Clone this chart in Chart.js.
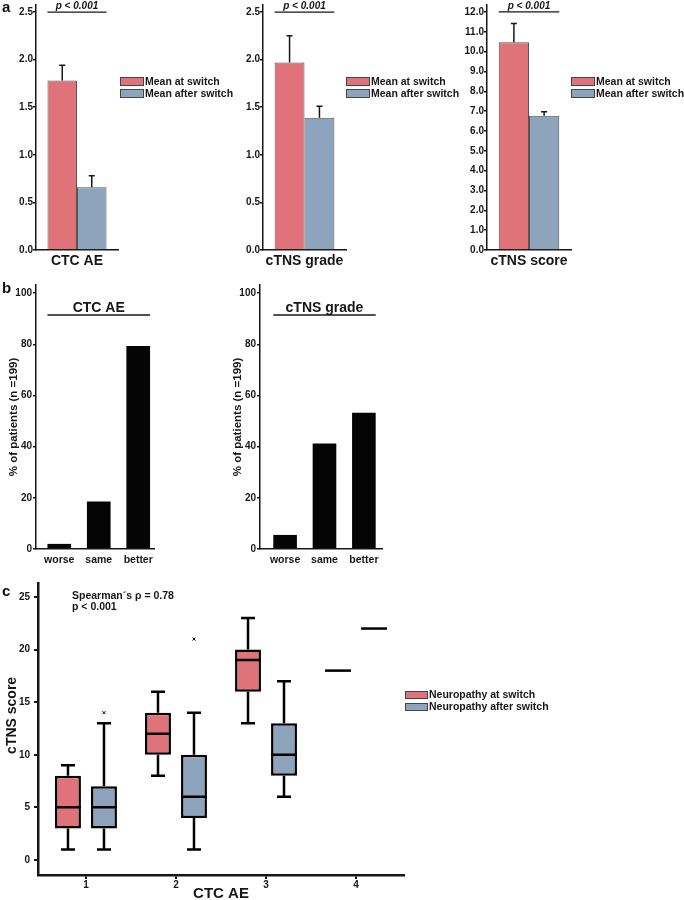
<!DOCTYPE html>
<html>
<head>
<meta charset="utf-8">
<title>Neuropathy at and after switch</title>
<script src="https://cdn.jsdelivr.net/npm/chart.js@4.4.0/dist/chart.umd.min.js"></script>
<style>
  body { margin: 0; background: #fff; overflow: hidden; }
  #page { position: relative; width: 684px; height: 900px; font-family: 'Liberation Sans', Arial, sans-serif; }
  #page canvas { position: absolute; }
  .tag { position: absolute; font-weight: bold; font-size: 15px; line-height: 15px; color: #111; }
</style>
</head>
<body>
<div id="page">
  <canvas id="a1" width="240" height="280" style="left:0;top:0"></canvas>
  <canvas id="a2" width="230" height="280" style="left:230px;top:0"></canvas>
  <canvas id="a3" width="230" height="280" style="left:454px;top:0"></canvas>
  <canvas id="b1" width="230" height="300" style="left:0;top:280px"></canvas>
  <canvas id="b2" width="230" height="300" style="left:224px;top:280px"></canvas>
  <canvas id="c" width="684" height="320" style="left:0;top:580px"></canvas>
  <div class="tag" style="left:2px;top:-1px">a</div>
  <div class="tag" style="left:2px;top:280px">b</div>
  <div class="tag" style="left:2px;top:583px">c</div>
</div>

<script>
// ---- data ----
const meanLabels = ['Mean at switch', 'Mean after switch'];
const ctcMean = [1.78, 0.66];
const ctcErr = [1.94, 0.78];
const gradeMean = [1.97, 1.39];
const gradeErr = [2.25, 1.51];
const scoreMean = [10.47, 6.77];
const scoreErr = [11.42, 6.97];

const changeCats = ['worse', 'same', 'better'];
const ctcChange = [2.0, 18.6, 79.4];
const gradeChange = [5.5, 41.2, 53.3];

const boxLabels = ['Neuropathy at switch', 'Neuropathy after switch'];
const ctcGrades = [1, 2, 3, 4];
const atMin = [1, 8, 13, 18];
const atQ1 = [3, 10, 16, 18];
const atMed = [5, 12, 19, 18];
const atQ3 = [8, 14, 20, 18];
const atMax = [9, 16, 23, 18];
const atOut = [[], [], [], []];
const afterMin = [1, 1, 6, 22];
const afterQ1 = [3, 4, 8, 22];
const afterMed = [5, 6, 10, 22];
const afterQ3 = [7, 10, 13, 22];
const afterMax = [13, 14, 17, 22];
const afterOut = [[14], [21], [], []];

// ---- styles ----
const FONT = "'Liberation Sans', Arial, sans-serif";
const RED = '#E0727A';
const BLUE = '#8DA4BC';
const INK = '#161616';

Chart.defaults.font.family = FONT;
Chart.defaults.font.weight = 'bold';
Chart.defaults.color = INK;

// upper error bars on the mean charts
const errorBars = {
  id: 'errorBars',
  afterDatasetsDraw(chart) {
    const { ctx, scales: { y } } = chart;
    chart.data.datasets.forEach((ds, i) => {
      if (!ds.errTop) return;
      chart.getDatasetMeta(i).data.forEach((bar, j) => {
        const top = y.getPixelForValue(ds.errTop[j]);
        ctx.save();
        ctx.strokeStyle = INK;
        ctx.lineWidth = 1.5;
        ctx.beginPath();
        ctx.moveTo(bar.x, bar.y);
        ctx.lineTo(bar.x, top);
        ctx.moveTo(bar.x - 3, top);
        ctx.lineTo(bar.x + 3, top);
        ctx.stroke();
        ctx.restore();
      });
    });
  }
};

// p-value bracket above the bars
const sigLine = {
  id: 'sigLine',
  afterDatasetsDraw(chart, args, opts) {
    if (!opts.text) return;
    const { ctx } = chart;
    const n = chart.data.datasets.length;
    const first = chart.getDatasetMeta(0).data[0];
    const last = chart.getDatasetMeta(n - 1).data[0];
    const x0 = first.x - first.width / 2, x1 = last.x + last.width / 2;
    const yy = chart.scales.y.getPixelForValue(opts.value);
    ctx.save();
    ctx.strokeStyle = INK;
    ctx.lineWidth = 1.3;
    ctx.beginPath();
    ctx.moveTo(x0, yy);
    ctx.lineTo(x1, yy);
    ctx.stroke();
    ctx.fillStyle = INK;
    ctx.font = 'italic bold 10px ' + FONT;
    ctx.textAlign = 'center';
    ctx.textBaseline = 'middle';
    ctx.fillText(opts.text, (x0 + x1) / 2, yy - 6);
    ctx.restore();
  }
};

// legend boxes beside the plot area
const sideLegend = {
  id: 'sideLegend',
  afterDraw(chart, args, opts) {
    const { ctx, chartArea } = chart;
    const x = chartArea.right + opts.dx;
    chart.data.datasets.forEach((ds, i) => {
      const y = opts.top + i * opts.step;
      ctx.save();
      ctx.fillStyle = ds.backgroundColor;
      ctx.fillRect(x, y, opts.boxW, opts.boxH);
      ctx.strokeStyle = '#444';
      ctx.lineWidth = 1;
      ctx.strokeRect(x + 0.5, y + 0.5, opts.boxW - 1, opts.boxH - 1);
      ctx.fillStyle = INK;
      ctx.font = 'bold 10.5px ' + FONT;
      ctx.textBaseline = 'middle';
      ctx.fillText(ds.label, x + opts.boxW + 1, y + opts.boxH / 2 + 0.5);
      ctx.restore();
    });
  }
};

// underlined heading inside the percentage charts
const panelHeader = {
  id: 'panelHeader',
  afterDraw(chart, args, opts) {
    if (!opts.text) return;
    const { ctx, chartArea } = chart;
    const bars = chart.getDatasetMeta(0).data;
    const x0 = bars[0].x - bars[0].width / 2;
    const x1 = bars[bars.length - 1].x + bars[bars.length - 1].width / 2;
    const yy = chartArea.top + opts.offset;
    ctx.save();
    ctx.strokeStyle = INK;
    ctx.lineWidth = 1.5;
    ctx.beginPath();
    ctx.moveTo(x0, yy);
    ctx.lineTo(x1, yy);
    ctx.stroke();
    ctx.fillStyle = INK;
    ctx.font = 'bold 14px ' + FONT;
    ctx.textAlign = 'center';
    ctx.textBaseline = 'middle';
    ctx.fillText(opts.text, (x0 + x1) / 2, yy - 7);
    ctx.restore();
  }
};

// whiskers, medians and outliers for the box plot
const boxWhiskers = {
  id: 'boxWhiskers',
  afterDatasetsDraw(chart) {
    const { ctx, scales: { y } } = chart;
    const p = v => y.getPixelForValue(v);
    chart.data.datasets.forEach((ds, i) => {
      const s = ds.stats;
      if (!s) return;
      chart.getDatasetMeta(i).data.forEach((box, j) => {
        const cx = box.x, half = box.width / 2, cap = box.width * 0.27;
        ctx.save();
        ctx.strokeStyle = '#000';
        ctx.lineWidth = 2.5;
        ctx.beginPath();
        if (s.max[j] > s.q3[j]) {
          ctx.moveTo(cx, p(s.q3[j]));
          ctx.lineTo(cx, p(s.max[j]));
          ctx.moveTo(cx - cap, p(s.max[j]));
          ctx.lineTo(cx + cap, p(s.max[j]));
        }
        if (s.min[j] < s.q1[j]) {
          ctx.moveTo(cx, p(s.q1[j]));
          ctx.lineTo(cx, p(s.min[j]));
          ctx.moveTo(cx - cap, p(s.min[j]));
          ctx.lineTo(cx + cap, p(s.min[j]));
        }
        ctx.moveTo(cx - half, p(s.med[j]));
        ctx.lineTo(cx + half, p(s.med[j]));
        ctx.stroke();
        ctx.lineWidth = 1;
        ctx.beginPath();
        s.out[j].forEach(v => {
          const oy = p(v);
          ctx.moveTo(cx - 1.5, oy - 1.5); ctx.lineTo(cx + 1.5, oy + 1.5);
          ctx.moveTo(cx + 1.5, oy - 1.5); ctx.lineTo(cx - 1.5, oy + 1.5);
        });
        ctx.stroke();
        ctx.restore();
      });
    });
  }
};

// text note in the plot corner
const cornerNote = {
  id: 'cornerNote',
  afterDraw(chart, args, opts) {
    if (!opts.lines) return;
    const { ctx, chartArea } = chart;
    ctx.save();
    ctx.fillStyle = INK;
    ctx.font = 'bold 10.5px ' + FONT;
    ctx.textBaseline = 'middle';
    opts.lines.forEach((t, i) => {
      ctx.fillText(t, chartArea.left + opts.dx, chartArea.top + opts.dy + i * 11.5);
    });
    ctx.restore();
  }
};

function yFit(w) {
  return s => { s.width = w; s.paddingTop = 0; s.paddingBottom = 0; };
}
function xFit(h) {
  return s => { s.height = h; s.paddingLeft = 0; s.paddingRight = 0; };
}

// ---- panel a: means with error bars ----
function meanChart(id, label, means, errs, yMax, step, yW, padRight, legendDx) {
  return new Chart(document.getElementById(id), {
    type: 'bar',
    data: {
      labels: [label],
      datasets: [
        { label: meanLabels[0], data: [means[0]], errTop: [errs[0]],
          backgroundColor: RED, borderColor: '#555', borderWidth: 1 },
        { label: meanLabels[1], data: [means[1]], errTop: [errs[1]],
          backgroundColor: BLUE, borderColor: '#555', borderWidth: 1 }
      ]
    },
    options: {
      responsive: false,
      animation: false,
      layout: { padding: { left: 0, right: padRight, top: 5, bottom: 0 } },
      datasets: { bar: { categoryPercentage: 0.72, barPercentage: 1 } },
      scales: {
        x: {
          afterFit: xFit(30),
          grid: { display: true, drawOnChartArea: false, drawTicks: false },
          border: { color: INK, width: 1.5 },
          ticks: { font: { size: 14, weight: 'bold' }, padding: 3, color: INK }
        },
        y: {
          min: 0,
          max: yMax,
          afterFit: yFit(yW),
          grid: { drawOnChartArea: false, tickLength: 3, color: INK, lineWidth: 1.5 },
          border: { color: INK, width: 1.5 },
          ticks: {
            stepSize: step, includeBounds: false, padding: 0, color: INK,
            font: { size: 10, weight: 'bold' },
            callback: v => v.toFixed(1)
          }
        }
      },
      plugins: {
        legend: { display: false },
        tooltip: { enabled: false },
        sigLine: { text: 'p < 0.001', value: step === 0.5 ? 2.5 : 12 },
        sideLegend: { dx: legendDx, top: 77, step: 12, boxW: 24, boxH: 9 }
      }
    },
    plugins: [errorBars, sigLine, sideLegend]
  });
}

meanChart('a1', 'CTC AE', ctcMean, ctcErr, 2.574, 0.5, 36, 122, 2);
meanChart('a2', 'cTNS grade', gradeMean, gradeErr, 2.574, 0.5, 33, 114, 0);
meanChart('a3', 'cTNS score', scoreMean, scoreErr, 12.35, 1, 33, 113, 0);

// ---- panel b: share of patients by change ----
function changeChart(id, title, values, xMin, xMax, padRight) {
  return new Chart(document.getElementById(id), {
    type: 'bar',
    data: {
      datasets: [{
        label: title,
        data: values.map((v, i) => ({ x: i + 1, y: v })),
        backgroundColor: '#050505',
        borderWidth: 0,
        categoryPercentage: 1,
        barPercentage: 0.6
      }]
    },
    options: {
      responsive: false,
      animation: false,
      layout: { padding: { left: 0, right: padRight, top: 5, bottom: 0 } },
      scales: {
        x: {
          type: 'linear',
          min: xMin,
          max: xMax,
          offset: false,
          afterFit: xFit(31),
          grid: { drawOnChartArea: false, drawTicks: false, offset: false },
          border: { color: INK, width: 1.5 },
          ticks: {
            stepSize: 1, includeBounds: false, padding: 5, color: INK,
            font: { size: 10.5, weight: 'bold' },
            callback: v => changeCats[v - 1] || ''
          }
        },
        y: {
          min: 0,
          max: 103.2,
          afterFit: yFit(36),
          grid: { drawOnChartArea: false, tickLength: 3, color: INK, lineWidth: 1.5 },
          border: { color: INK, width: 1.5 },
          ticks: { stepSize: 20, includeBounds: false, padding: 1, color: INK, font: { size: 10, weight: 'bold' } },
          title: {
            display: true, text: '% of patients (n =199)', color: INK,
            font: { size: 11.5, weight: 'bold' }, padding: { top: 7, bottom: 0 }
          }
        }
      },
      plugins: {
        legend: { display: false },
        tooltip: { enabled: false },
        panelHeader: { text: title, offset: 30 }
      }
    },
    plugins: [panelHeader]
  });
}

changeChart('b1', 'CTC AE', ctcChange, 0.41, 3.40, 76);
changeChart('b2', 'cTNS grade', gradeChange, 0.363, 3.46, 72);

// ---- panel c: cTNS score by CTC AE grade ----
new Chart(document.getElementById('c'), {
  type: 'bar',
  data: {
    datasets: [
      {
        label: boxLabels[0],
        data: ctcGrades.map((g, i) => ({ x: g, y: [atQ1[i], atQ3[i]] })),
        stats: { min: atMin, q1: atQ1, med: atMed, q3: atQ3, max: atMax, out: atOut },
        backgroundColor: RED, borderColor: '#000', borderWidth: 2.5, borderSkipped: false
      },
      {
        label: boxLabels[1],
        data: ctcGrades.map((g, i) => ({ x: g, y: [afterQ1[i], afterQ3[i]] })),
        stats: { min: afterMin, q1: afterQ1, med: afterMed, q3: afterQ3, max: afterMax, out: afterOut },
        backgroundColor: BLUE, borderColor: '#000', borderWidth: 2.5, borderSkipped: false
      }
    ]
  },
  options: {
    responsive: false,
    animation: false,
    layout: { padding: { left: 0, right: 280, top: 3, bottom: 0 } },
    datasets: { bar: { categoryPercentage: 0.8, barPercentage: 0.72 } },
    scales: {
      x: {
        type: 'linear',
        min: 0.467,
        max: 4.533,
        offset: false,
        afterFit: xFit(25),
        grid: { drawOnChartArea: false, tickLength: 4, color: INK, lineWidth: 2, offset: false },
        border: { color: INK, width: 2.5 },
        ticks: { stepSize: 1, includeBounds: false, padding: 0, color: INK, font: { size: 10, weight: 'bold' } },
        title: {
          display: true, text: 'CTC AE', color: INK,
          font: { size: 15, weight: 'bold' }, padding: { top: 0, bottom: -3 }
        }
      },
      y: {
        min: -1.43,
        max: 26.33,
        afterFit: yFit(38),
        grid: { drawOnChartArea: false, tickLength: 4, color: INK, lineWidth: 2 },
        border: { color: INK, width: 2.5 },
        ticks: { stepSize: 5, includeBounds: false, padding: 4, color: INK, font: { size: 10, weight: 'bold' } },
        title: {
          display: true, text: '       cTNS score', color: INK,
          font: { size: 14, weight: 'bold' }, padding: { top: 4, bottom: 0 }
        }
      }
    },
    plugins: {
      legend: { display: false },
      tooltip: { enabled: false },
      sideLegend: { dx: 1, top: 111, step: 12, boxW: 23, boxH: 8 },
      cornerNote: { lines: ['Spearman\u00b4s \u03c1 = 0.78', 'p < 0.001'], dx: 34, dy: 13 }
    }
  },
  plugins: [boxWhiskers, sideLegend, cornerNote]
});
</script>
</body>
</html>
